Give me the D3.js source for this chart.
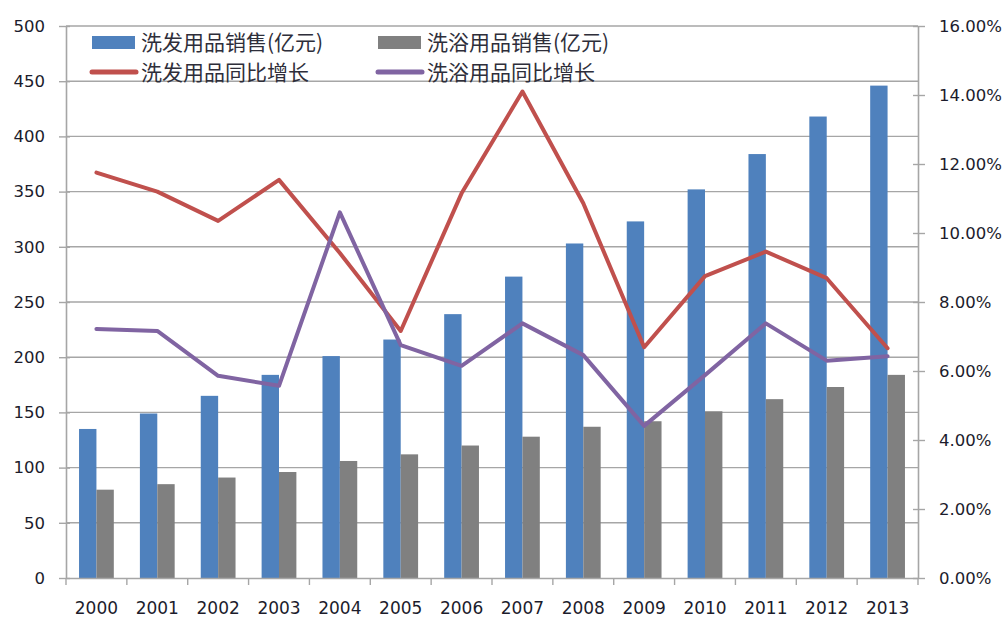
<!DOCTYPE html>
<html>
<head>
<meta charset="utf-8">
<script src="https://cdn.jsdelivr.net/npm/d3@7"></script>
<style>
  body { margin: 0; background: #fff; }
  svg { display: block; }
</style>
</head>
<body>
<svg id="chart"></svg>
<script>
// data
var years = ["2000","2001","2002","2003","2004","2005","2006","2007","2008","2009","2010","2011","2012","2013"];
var hairSales = [135,149,165,184,201,216,239,273,303,323,352,384,418,446];   // 洗发用品销售(亿元)
var bathSales = [80,85,91,96,106,112,120,128,137,142,151,162,173,184];         // 洗浴用品销售(亿元)
var hairGrowth = [11.75,11.2,10.35,11.54,9.42,7.16,11.15,14.1,10.86,6.69,8.75,9.46,8.69,6.66]; // %
var bathGrowth = [7.22,7.16,5.86,5.57,10.6,6.75,6.15,7.38,6.46,4.41,5.88,7.38,6.3,6.43];       // %
var leftTicks = [0,50,100,150,200,250,300,350,400,450,500];
var rightTicks = [0,2,4,6,8,10,12,14,16];

var seriesNames = ["洗发用品销售(亿元)","洗浴用品销售(亿元)","洗发用品同比增长","洗浴用品同比增长"];
var colors = ["#4F81BD","#808080","#C0504D","#8064A2"];

/*************** settings *****************/
var width = 1008, height = 619,
	margin = {top:26, right:90, bottom:41, left:66},
	innerW = width - margin.left - margin.right,
	innerH = height - margin.top - margin.bottom,
	gridColor = "#a6a6a6",
	textColor = "#1c1c2c",
	tickFont = "'DejaVu Sans', Verdana, sans-serif";

var svg = d3.select("#chart")
	.attr("width", width)
	.attr("height", height);

var g = svg.append("g")
	.attr("transform", "translate(" + margin.left + "," + margin.top + ")");

/*************** scales *****************/
var x = d3.scaleBand().domain(years).range([0, innerW]).padding(0);
var yL = d3.scaleLinear().domain([0, 500]).range([innerH, 0]);
var yR = d3.scaleLinear().domain([0, 16]).range([innerH, 0]);

var bw = x.bandwidth() / 3.5;         // two bars, 150% gap
var gapOff = x.bandwidth() * 0.75 / 3.5;

/*************** grid *****************/
g.append("g")
	.selectAll("line")
	.data(leftTicks.slice(1))
	.enter().append("line")
	.attr("x1", 0).attr("x2", innerW)
	.attr("y1", function(d){ return yL(d); })
	.attr("y2", function(d){ return yL(d); })
	.attr("stroke", gridColor)
	.attr("stroke-width", 1.4);

/*************** bars *****************/
var bars = g.append("g");
bars.selectAll("rect.hair")
	.data(hairSales)
	.enter().append("rect")
	.attr("class", "hair")
	.attr("x", function(d, i){ return x(years[i]) + gapOff; })
	.attr("y", function(d){ return yL(d); })
	.attr("width", bw)
	.attr("height", function(d){ return innerH - yL(d); })
	.attr("fill", colors[0]);

bars.selectAll("rect.bath")
	.data(bathSales)
	.enter().append("rect")
	.attr("class", "bath")
	.attr("x", function(d, i){ return x(years[i]) + gapOff + bw; })
	.attr("y", function(d){ return yL(d); })
	.attr("width", bw)
	.attr("height", function(d){ return innerH - yL(d); })
	.attr("fill", colors[1]);

/*************** axes *****************/
var axisL = g.append("g")
	.call(d3.axisLeft(yL).tickValues(leftTicks).tickSizeInner(7).tickSizeOuter(0).tickPadding(14));
var axisR = g.append("g")
	.attr("transform", "translate(" + innerW + ",0)")
	.call(d3.axisRight(yR).tickValues(rightTicks).tickSizeInner(7).tickSizeOuter(0).tickPadding(14)
		.tickFormat(function(d){ return d.toFixed(2) + "%"; }));
var axisB = g.append("g")
	.attr("transform", "translate(0," + innerH + ")")
	.call(d3.axisBottom(x).tickSize(0).tickPadding(0));

// cross ticks on vertical axes
axisL.selectAll(".tick line").attr("x1", 4);
axisR.selectAll(".tick line").attr("x1", -5);

[axisL, axisR, axisB].forEach(function(a){
	a.select(".domain").attr("stroke", gridColor).attr("stroke-width", 1.6);
	a.selectAll(".tick line").attr("stroke", gridColor).attr("stroke-width", 1.4);
	a.selectAll("text")
		.attr("fill", textColor)
		.style("font-family", tickFont)
		.style("font-size", "16.5px");
});
axisB.selectAll("text")
	.attr("y", 36)
	.attr("dy", null)
	.style("font-size", "17px");

// category boundary ticks on the x axis
g.append("g")
	.selectAll("line")
	.data(d3.range(years.length + 1))
	.enter().append("line")
	.attr("x1", function(i){ return i * x.step(); })
	.attr("x2", function(i){ return i * x.step(); })
	.attr("y1", innerH).attr("y2", innerH + 7)
	.attr("stroke", gridColor)
	.attr("stroke-width", 1.4);

/*************** lines *****************/
var line = d3.line()
	.x(function(d, i){ return x(years[i]) + x.bandwidth() / 2; })
	.y(function(d){ return yR(d); });

[hairGrowth, bathGrowth].forEach(function(s, k){
	g.append("path")
		.datum(s)
		.attr("d", line)
		.attr("fill", "none")
		.attr("stroke", colors[2 + k])
		.attr("stroke-width", 4)
		.attr("stroke-linejoin", "round")
		.attr("stroke-linecap", "round");
});

/*************** legend *****************/
var legend = svg.append("g");
var legendPos = [[92, 42.5], [378, 42.5], [92, 72], [378, 72]];
seriesNames.forEach(function(name, i){
	var p = legendPos[i];
	if (i < 2) {
		legend.append("rect")
			.attr("x", p[0]).attr("y", p[1] - 6.5)
			.attr("width", 43).attr("height", 13)
			.attr("fill", colors[i]);
	} else {
		legend.append("line")
			.attr("x1", p[0]).attr("x2", p[0] + 44)
			.attr("y1", p[1]).attr("y2", p[1])
			.attr("stroke", colors[i])
			.attr("stroke-width", 5)
			.attr("stroke-linecap", "round");
	}
	legend.append("text")
		.attr("x", p[0] + 49)
		.attr("y", p[1])
		.attr("dy", "0.36em")
		.attr("fill", "#2e2e3a")
		.style("font-family", "'Noto Sans CJK SC', sans-serif")
		.style("font-size", "21px")
		.text(name);
});
</script>
</body>
</html>
